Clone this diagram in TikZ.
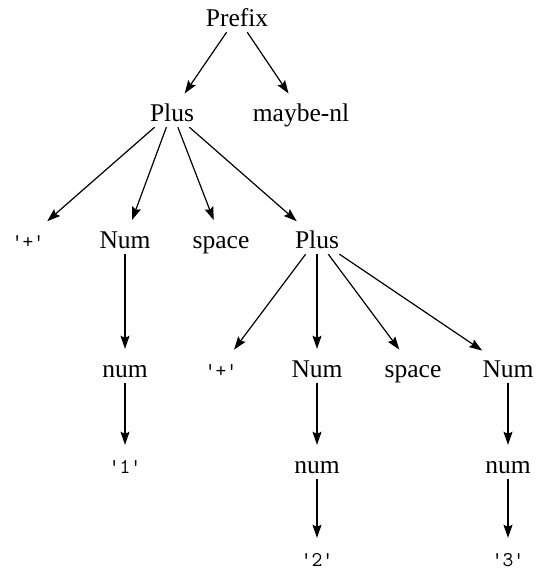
\documentclass[tikz,border=0pt]{standalone}
\usepackage{fontspec}
\setmainfont{Liberation Serif}
\usetikzlibrary{arrows.meta}
\newcommand{\quoted}[1]{\textquotesingle#1\textquotesingle}
\tikzset{
  lbl/.style={inner xsep=3pt, inner ysep=4pt, text height=20pt, text depth=2pt, font=\fontsize{25.5}{30}\selectfont},
  lit/.style={lbl, text depth=0pt, font=\fontsize{21}{24}\selectfont\ttfamily},
  arr/.style={black, line width=1.2pt, -{Stealth[length=13pt,width=9pt,inset=2pt]}, shorten >=4pt}
}

\begin{document}
\begin{tikzpicture}[x=1pt, y=-1pt]
\useasboundingbox (0,0) rectangle (537,571);
% rows of the tree
\node[lbl] (prefix) at (237,17) {Prefix};
\node[lbl] (plus) at (172,112) {Plus};
\node[lbl] (maybenl) at (301,112) {maybe-nl};
\node[lit] (plusa) at (28,238) {\quoted{+}};
\node[lbl] (numa) at (125,239) {Num};
\node[lbl] (spacea) at (221,239) {space};
\node[lbl] (plusb) at (317,239) {Plus};
\node[lbl] (tokena) at (125,368) {num};
\node[lit] (plusc) at (221,367) {\quoted{+}};
\node[lbl] (numb) at (317,368) {Num};
\node[lbl] (spaceb) at (413,368) {space};
\node[lbl] (numc) at (508,368) {Num};
\node[lit] (one) at (125,463) {\quoted{1}};
\node[lbl] (tokenb) at (317,464) {num};
\node[lbl] (tokenc) at (508,464) {num};
\node[lit] (two) at (317,556) {\quoted{2}};
\node[lit] (three) at (508,556) {\quoted{3}};

% edges
\foreach \a/\b in {prefix/plus, prefix/maybenl,
  plus/plusa, plus/numa, plus/spacea, plus/plusb,
  numa/tokena, tokena/one,
  plusb/plusc, plusb/numb, plusb/spaceb, plusb/numc,
  numb/tokenb, tokenb/two, numc/tokenc, tokenc/three}{
	\draw[arr] (\a) -- (\b);
}
\end{tikzpicture}
\end{document}
